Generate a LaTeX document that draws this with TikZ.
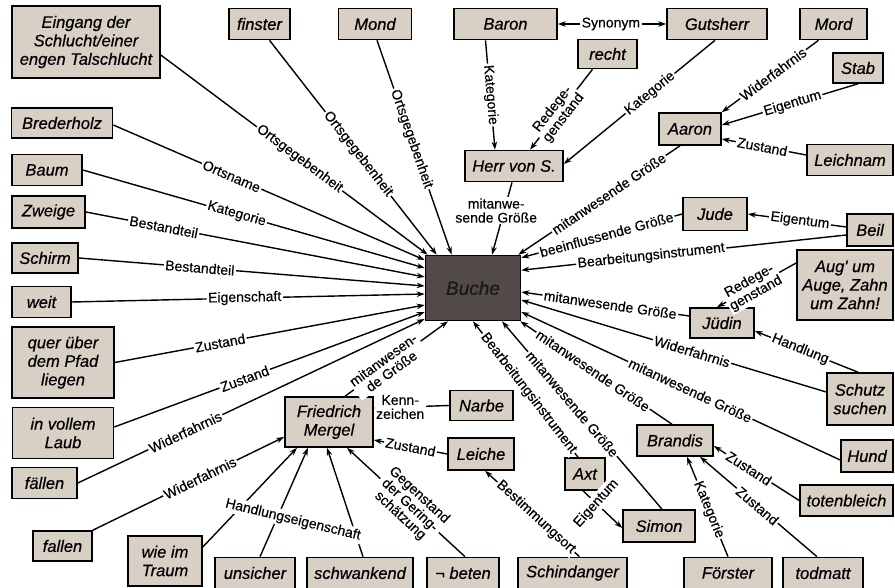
\documentclass[tikz,border=0pt]{standalone}
\usepackage{fontspec}
\setmainfont{Liberation Sans}
\newfontfamily\nodefont{Liberation Sans}[FakeBold=0.5]
\newfontfamily\labfont{Liberation Sans}[FakeBold=0.3]
\usetikzlibrary{arrows.meta,calc}
\definecolor{boxfill}{HTML}{D8CFC5}
\definecolor{buchefill}{HTML}{524949}
\tikzset{
  box/.style={draw=black, line width=1.6pt, fill=boxfill, inner sep=0pt, align=center,
    font=\nodefont\fontsize{16.5}{18.5}\selectfont\itshape, text=black},
  edge/.style={draw=black, line width=1.4pt, -{Stealth[length=8pt,width=5.5pt]}},
  twoway/.style={draw=black, line width=1.4pt, {Stealth[length=8pt,width=5.5pt]}-{Stealth[length=8pt,width=5.5pt]}},
  lab/.style={fill=white, inner sep=1.5pt, align=center, font=\labfont\fontsize{14}{14}\selectfont, sloped},
  flat/.style={fill=white, inner sep=1.5pt, align=center, font=\labfont\fontsize{14}{14}\selectfont},
}
\begin{document}
\begin{tikzpicture}[x=1pt,y=-1pt]
\path[use as bounding box] (0,0) rectangle (895,588);

% ---------- nodes ----------
\node[box, minimum width=148pt, minimum height=72pt] (eingang) at (86,42) {Eingang der\\Schlucht/einer\\engen Talschlucht};
\node[box, minimum width=61pt, minimum height=31pt] (finster) at (259.5,24) {finster};
\node[box, minimum width=73pt, minimum height=31pt] (mond) at (375,24) {Mond};
\node[box, minimum width=103pt, minimum height=31pt] (baron) at (505.5,24) {Baron};
\node[box, minimum width=100pt, minimum height=31pt] (gutsherr) at (717,24) {Gutsherr};
\node[box, minimum width=67pt, minimum height=31pt] (mord) at (833.5,24) {Mord};
\node[box, minimum width=59pt, minimum height=29pt] (recht) at (607.5,54) {recht};
\node[box, minimum width=50pt, minimum height=30pt] (stab) at (858,68) {Stab};
\node[box, minimum width=62pt, minimum height=32pt] (aaron) at (690,129) {Aaron};
\node[box, minimum width=86pt, minimum height=31pt] (leichnam) at (850,160) {Leichnam};
\node[box, minimum width=98pt, minimum height=31pt] (herr) at (514,166) {Herr von S.};
\node[box, minimum width=101pt, minimum height=30pt] (brederholz) at (62,123) {Brederholz};
\node[box, minimum width=70pt, minimum height=31pt] (baum) at (47,170) {Baum};
\node[box, minimum width=73pt, minimum height=32pt] (zweige) at (48.5,212) {Zweige};
\node[box, minimum width=66pt, minimum height=30pt] (schirm) at (45,258) {Schirm};
\node[box, minimum width=59pt, minimum height=31pt] (weit) at (41.5,302) {weit};
\node[box, minimum width=102pt, minimum height=71pt] (quer) at (63,362.5) {quer über\\dem Pfad\\liegen};
\node[box, minimum width=101pt, minimum height=51pt] (laub) at (63,433) {in vollem\\Laub};
\node[box, minimum width=65pt, minimum height=31pt] (faellen) at (44.5,483) {fällen};
\node[box, minimum width=59pt, minimum height=30pt] (fallen) at (62.5,546) {fallen};
\node[box, fill=buchefill, minimum width=95pt, minimum height=65pt,
      font=\nodefont\fontsize{19}{21}\selectfont\itshape, text={black!90}] (buche) at (473,288) {Buche};
\node[box, minimum width=64pt, minimum height=33pt] (jude) at (715,214) {Jude};
\node[box, minimum width=46pt, minimum height=32pt] (beil) at (870,230) {Beil};
\node[box, minimum width=96pt, minimum height=70pt] (aug) at (845,285) {Aug' um\\Auge, Zahn\\um Zahn!};
\node[box, minimum width=64pt, minimum height=30pt] (juedin) at (722,323) {Jüdin};
\node[box, minimum width=66pt, minimum height=52pt] (schutz) at (860,399) {Schutz\\suchen};
\node[box, minimum width=52pt, minimum height=32pt] (hund) at (867,456) {Hund};
\node[box, minimum width=76pt, minimum height=31pt] (brandis) at (675,440.5) {Brandis};
\node[box, minimum width=93pt, minimum height=31pt] (totenbleich) at (846.5,500.5) {totenbleich};
\node[box, minimum width=63pt, minimum height=30pt] (narbe) at (481.5,405.5) {Narbe};
\node[box, minimum width=66pt, minimum height=32pt] (leiche) at (481,454) {Leiche};
\node[box, minimum width=40pt, minimum height=32pt] (axt) at (585,474) {Axt};
\node[box, minimum width=72pt, minimum height=32pt] (simon) at (659,526) {Simon};
\node[box, minimum width=88pt, minimum height=50pt] (fm) at (329,422) {Friedrich\\Mergel};
\node[box, minimum width=74pt, minimum height=50pt] (wie) at (165,561) {wie im\\Traum};
\node[box, minimum width=80pt, minimum height=31pt] (unsicher) at (255,573) {unsicher};
\node[box, minimum width=106pt, minimum height=31pt] (schwankend) at (360,573) {schwankend};
\node[box, minimum width=72pt, minimum height=31pt] (beten) at (463,573) {¬ beten};
\node[box, minimum width=109pt, minimum height=31pt] (schindanger) at (572.5,573) {Schindanger};
\node[box, minimum width=88pt, minimum height=31pt] (foerster) at (728,573) {Förster};
\node[box, minimum width=80pt, minimum height=31pt] (todmatt) at (823,573) {todmatt};

% ---------- edges into Buche ----------
\draw[edge] ([yshift=-13pt]eingang.east) -- node[lab,pos=.52]{Ortsgegebenheit} ([xshift=3pt]buche.north west);
\draw[edge] ([xshift=10pt]finster.south) -- node[lab,pos=.53]{Ortsgegebenheit} ([xshift=12pt]buche.north west);
\draw[edge] ([xshift=2pt]mond.south) -- node[lab,pos=.46]{Ortsgegebenheit} ([xshift=27pt]buche.north west);
\draw[edge] ([xshift=-2pt]herr.south) -- node[flat,pos=.39,xshift=-8pt]{mitanwe-\\sende Größe} ([xshift=19pt]buche.north);
\draw[edge] ([xshift=-10pt]aaron.south) -- node[lab,pos=.44]{mitanwesende Größe} ([xshift=-3pt]buche.north east);
\draw[edge] (jude.west) -- node[lab,pos=.47]{beeinflussende Größe} ([yshift=-3pt]buche.north east);
\draw[edge] ([yshift=-5pt]beil.west) -- node[lab,pos=.6]{Bearbeitungsinstrument} ([yshift=-15.5pt]buche.north east);
\draw[edge] ([yshift=7pt]juedin.west) -- node[lab,pos=.47]{mitanwesende Größe} ([yshift=-4pt]buche.east);
\draw[edge] ([yshift=7pt]schutz.west) -- node[lab,pos=.44]{Widerfahrnis} ([yshift=-12pt]buche.east);
\draw[edge] ([yshift=-4pt]hund.west) -- node[lab,pos=.47]{mitanwesende Größe} ([yshift=-24pt]buche.east);
\draw[edge] ([xshift=-3pt]brandis.north) -- node[lab,pos=.52]{mitanwesende Größe} ([xshift=-1pt]buche.south east);
\draw[edge] ([xshift=3pt]simon.north) -- node[lab,pos=.56]{mitanwesende Größe} ([xshift=29pt]buche.south);
\draw[edge] ([xshift=-7pt]axt.north) -- node[lab,pos=.47]{Bearbeitungsinstrument} (buche.south);
\draw[edge] ([xshift=16pt]fm.north) -- node[lab,pos=.41]{mitanwesen-\\de Größe} ([xshift=-25pt]buche.south);
\draw[edge] ([yshift=-2pt]brederholz.east) -- node[lab,pos=.38]{Ortsname} ([yshift=28pt]buche.west);
\draw[edge] (baum.east) -- node[lab,pos=.45]{Kategorie} ([yshift=20pt]buche.west);
\draw[edge] (zweige.east) -- node[lab,pos=.23]{Bestandteil} ([yshift=11pt]buche.west);
\draw[edge] (schirm.east) -- node[lab,pos=.35]{Bestandteil} ([yshift=2pt]buche.west);
\draw[edge] (weit.east) -- node[lab,pos=.49]{Eigenschaft} ([yshift=-6pt]buche.west);
\draw[edge] (quer.east) -- node[lab,pos=.34]{Zustand} ([yshift=-17pt]buche.west);
\draw[edge] ([yshift=6pt]laub.east) -- node[lab,pos=.42]{Zustand} ([yshift=-24pt]buche.west);
\draw[edge] (faellen.east) -- node[lab,pos=.31]{Widerfahrnis} ([yshift=-31pt]buche.west);

% ---------- edges into Friedrich Mergel ----------
\draw[edge] (fallen.north east) -- node[lab,pos=.56]{Widerfahrnis} ([yshift=-15pt]fm.west);
\draw[edge] (narbe.west) -- node[flat,pos=.65]{Kenn-\\zeichen} ([yshift=14pt]fm.east);
\draw[edge] (leiche.west) -- node[lab,pos=.5]{Zustand} ([yshift=-18pt]fm.east);
\draw[edge] ([yshift=14pt]wie.east) -- ([xshift=-32pt]fm.south);
\draw[edge] ([xshift=5pt]unsicher.north) -- ([xshift=-21pt]fm.south);
\draw[edge] ([xshift=3pt]schwankend.north) -- ([xshift=-2pt]fm.south);
\draw[edge] ([xshift=2pt]beten.north) -- node[lab,pos=.47]{Gegenstand\\der Gering-\\schätzung} ([xshift=18pt]fm.south);
\node[flat, rotate=-13.6] (handlung) at (293,520) {Handlungseigenschaft};

% ---------- other edges ----------
\draw[edge] ([xshift=-20pt]baron.south) -- node[lab,pos=.5]{Kategorie} ([xshift=-19pt]herr.north);
\draw[twoway] (baron.east) -- node[flat,pos=.49]{Synonym} (gutsherr.west);
\draw[edge] ([xshift=-15pt]recht.south) -- node[lab,pos=.55]{Redege-\\genstand} ([xshift=16pt]herr.north);
\draw[edge] ([xshift=-2pt]gutsherr.south) -- node[lab,pos=.43]{Kategorie} ([yshift=2pt]herr.east);
\draw[edge] ([xshift=-15pt]mord.south) -- node[lab,pos=.47]{Widerfahrnis} (aaron.north east);
\draw[edge] (stab.south) -- node[lab,pos=.48]{Eigentum} ([yshift=4pt]aaron.east);
\draw[edge] ([yshift=5pt]leichnam.west) -- node[lab,pos=.52]{Zustand} ([yshift=-10pt]aaron.east);
\draw[edge] ([yshift=3pt]beil.west) -- node[lab,pos=.47]{Eigentum} (jude.east);
\draw[edge] ([yshift=22pt]aug.west) -- node[lab,pos=.55]{Redege-\\genstand} ([xshift=-5pt]juedin.north);
\draw[edge] ([xshift=-2pt]schutz.north) -- node[lab,pos=.56]{Handlung} ([yshift=-8pt]juedin.east);
\draw[edge] (totenbleich.west) -- node[lab,pos=.59]{Zustand} ([yshift=-5.5pt]brandis.east);
\draw[edge] ([xshift=-6pt]todmatt.north) -- node[lab,pos=.51]{Zustand} ([xshift=25pt]brandis.south);
\draw[edge] (foerster.north) -- node[lab,pos=.47]{Kategorie} ([xshift=12pt]brandis.south);
\draw[edge] ([xshift=-2pt]axt.south) -- node[flat,pos=.34,rotate=48]{Eigentum} ([yshift=-2pt]simon.west);
\draw[edge] ([xshift=7pt]schindanger.north) -- node[lab,pos=.46]{Bestimmungsort} ([xshift=4pt]leiche.south);
\end{tikzpicture}
\end{document}
